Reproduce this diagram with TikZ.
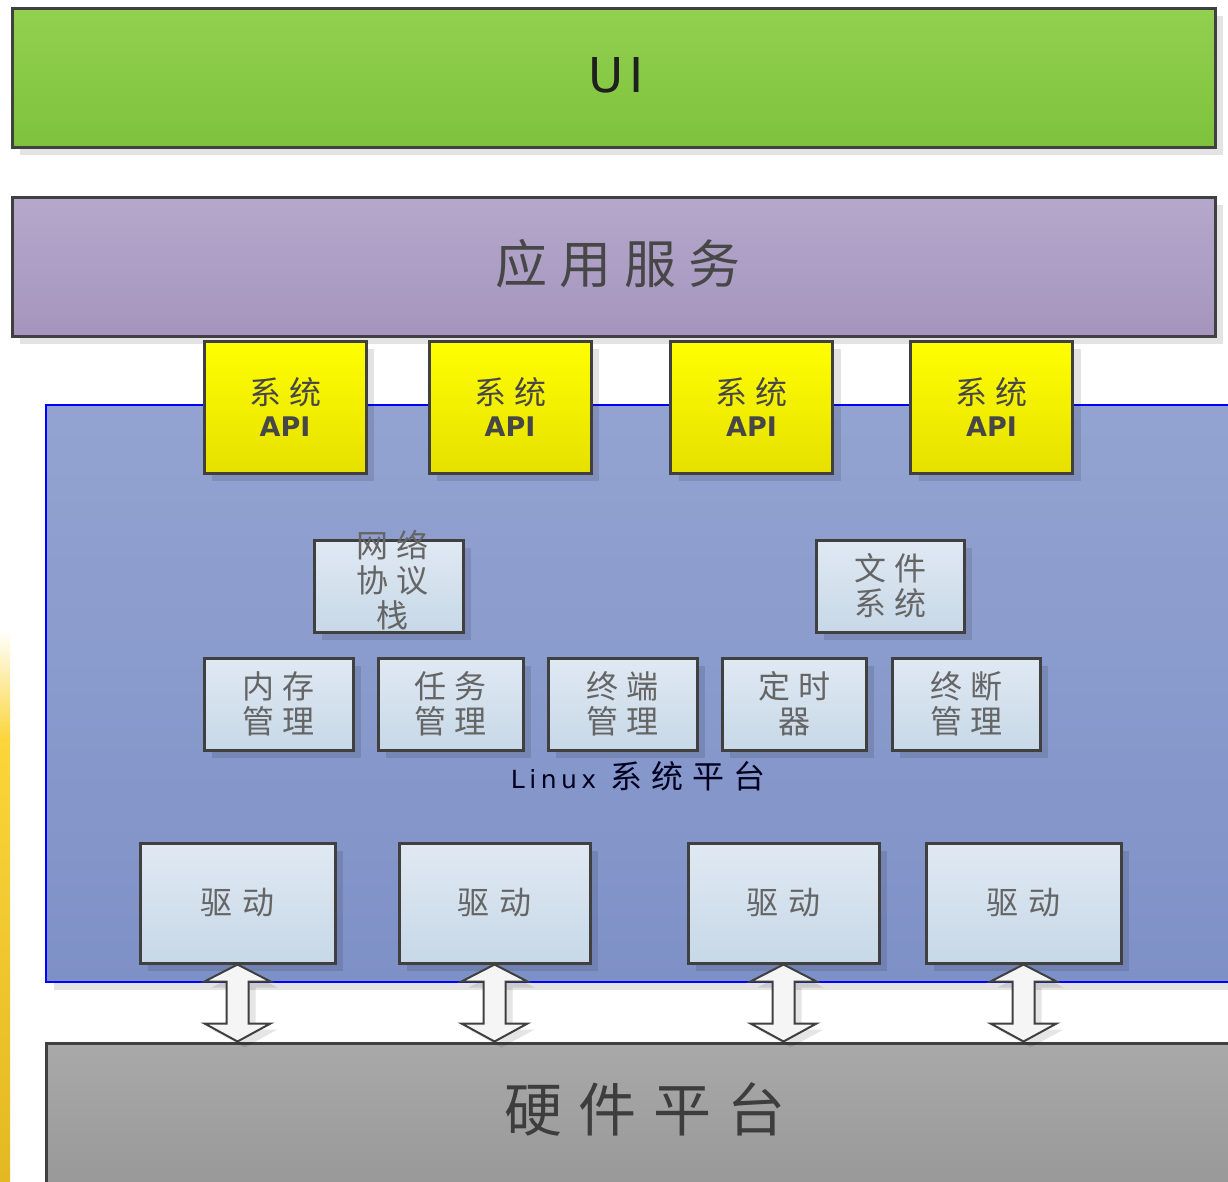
\documentclass[tikz,border=0pt]{standalone}
\usepackage{fontspec}
\setmainfont{Noto Sans CJK SC}
\newfontfamily\latinf{DejaVu Sans}
\newfontfamily\cjkw[LetterSpace=25]{Noto Sans CJK SC}
\newfontfamily\cjkwide[LetterSpace=30]{Noto Sans CJK SC}
\usetikzlibrary{calc,shadows}
\definecolor{edge}{HTML}{404040}
\definecolor{uitop}{HTML}{92D050}
\definecolor{uibot}{HTML}{7EC23C}
\definecolor{aptop}{HTML}{B5A8CB}
\definecolor{apbot}{HTML}{A595BE}
\definecolor{pltop}{HTML}{93A3D1}
\definecolor{plbot}{HTML}{7E91C7}
\definecolor{yetop}{HTML}{FFFF00}
\definecolor{yebot}{HTML}{E6E000}
\definecolor{bxtop}{HTML}{E0E9F3}
\definecolor{bxbot}{HTML}{C7D8E7}
\definecolor{hwtop}{HTML}{A9A9A9}
\definecolor{hwbot}{HTML}{989898}
\definecolor{stripeY}{HTML}{FBD53A}
\definecolor{stripeD}{HTML}{E4B822}
\definecolor{txtgray}{HTML}{656565}
\begin{document}
\begin{tikzpicture}[x=1pt,y=-1pt,
  shd/.style={drop shadow={shadow xshift=8pt,shadow yshift=-8pt,fill=black,opacity=0.11}},
  layer/.style={draw=edge,line width=3pt,shd,inner sep=0pt,minimum width=1203pt,minimum height=139pt},
  apibox/.style={draw=edge,line width=3pt,shd,top color=yetop,bottom color=yebot,inner sep=0pt,
    minimum width=162pt,minimum height=132pt,align=center,font=\cjkw\fontsize{32}{36}\selectfont,text=black!72},
  modbox/.style={draw=edge,line width=3pt,shd,top color=bxtop,bottom color=bxbot,inner sep=0pt,
    minimum height=92pt,align=center,font=\cjkw\fontsize{32}{35}\selectfont,text=txtgray},
  drvbox/.style={draw=edge,line width=3pt,shd,top color=bxtop,bottom color=bxbot,inner sep=0pt,
    minimum height=120pt,font=\cjkwide\fontsize{32}{35}\selectfont,text=txtgray},
  lbl/.style={inner sep=0pt,align=center},
  arrowst/.style={draw=edge,line width=2pt,fill=white!96!black,line join=miter,
    drop shadow={shadow xshift=7pt,shadow yshift=-6pt,fill=black,opacity=0.1}},
  dbl/.style={to path={let \p1=(\tikztostart),\p2=(\tikztotarget) in
    (\x1,\y1) -- (\x1+33pt,\y1-17pt) -- (\x1+11pt,\y1-17pt) -- (\x1+11pt,\y2+18pt)
    -- (\x1+33pt,\y2+18pt) -- (\x1,\y2) -- (\x1-33pt,\y2+18pt) -- (\x1-11pt,\y2+18pt)
    -- (\x1-11pt,\y1-17pt) -- (\x1-33pt,\y1-17pt) -- cycle}}
]
\clip (0,0) rectangle (1228,1181);
\fill[white] (0,0) rectangle (1228,1181);

% left stripe
\fill[top color=white,bottom color=stripeY] (0,630) rectangle (10,740);
\fill[top color=stripeY,bottom color=stripeD] (0,740) rectangle (10,1181);

% UI layer
\node[layer,top color=uitop,bottom color=uibot] (ui) at (613.5,77.5) {};
\node[lbl,font=\latinf\addfontfeature{LetterSpace=12}\fontsize{48}{52}\selectfont,text=black!88] (uit) at (616,75) {UI};

% application services
\node[layer,top color=aptop,bottom color=apbot] (app) at (613.5,266.5) {};
\node[lbl,font=\fontsize{52}{56}\selectfont\addfontfeature{LetterSpace=24},text=black!72] (appt) at (618,264) {应用服务};

% Linux platform
\node[draw=blue,line width=2.5pt,top color=pltop,bottom color=plbot,inner sep=0pt,shd,
  minimum width=1194pt,minimum height=577pt] (plat) at (643,693.5) {};

% system API boxes
\node[apibox] (api1) at (285,407) {系统\\[-4pt]{\latinf\bfseries\fontsize{27}{30}\selectfont API}};
\node[apibox] (api2) at (510,407) {系统\\[-4pt]{\latinf\bfseries\fontsize{27}{30}\selectfont API}};
\node[apibox] (api3) at (751.5,407) {系统\\[-4pt]{\latinf\bfseries\fontsize{27}{30}\selectfont API}};
\node[apibox] (api4) at (991.5,407) {系统\\[-4pt]{\latinf\bfseries\fontsize{27}{30}\selectfont API}};

% module boxes
\node[modbox,minimum width=149pt] (net) at (388.5,586) {};
\node[lbl,font=\cjkw\fontsize{32}{35}\selectfont,text=txtgray] (nett) at (392,580) {网络\\协议\\栈};
\node[modbox,minimum width=148pt] (fs) at (890,586) {文件\\系统};

\node[modbox,minimum width=149pt] (mem) at (278.5,704) {内存\\管理};
\node[modbox,minimum width=145pt] (task) at (450.5,704) {任务\\管理};
\node[modbox,minimum width=149pt] (term) at (622.5,704) {终端\\管理};
\node[modbox,minimum width=144pt] (timer) at (794,704) {定时\\器};
\node[modbox,minimum width=148pt] (intr) at (966,704) {终断\\管理};

\node[lbl,text=black!70!blue!40!black] (linux) at (638,776)
  {{\latinf\addfontfeature{LetterSpace=18}\fontsize{25}{28}\selectfont Linux}\hspace{14pt}{\fontsize{32}{34}\selectfont\addfontfeature{LetterSpace=28}系统平台}};

% drivers
\node[drvbox,minimum width=195pt] (d1) at (237.5,903) {驱动};
\node[drvbox,minimum width=191pt] (d2) at (494.5,903) {驱动};
\node[drvbox,minimum width=191pt] (d3) at (783.5,903) {驱动};
\node[drvbox,minimum width=195pt] (d4) at (1023.5,903) {驱动};

% hardware
\node[draw=edge,line width=3pt,top color=hwtop,bottom color=hwbot,inner sep=0pt,
  minimum width=1194pt,minimum height=147pt] (hw) at (643,1116.5) {};
\node[lbl,font=\fontsize{58}{62}\selectfont\addfontfeature{LetterSpace=28},text=black!76] (hwt) at (645,1109) {硬件平台};

% double arrows
\path[arrowst] (d1.south) to[dbl] (d1.south |- hw.north);
\path[arrowst] (d2.south) to[dbl] (d2.south |- hw.north);
\path[arrowst] (d3.south) to[dbl] (d3.south |- hw.north);
\path[arrowst] (d4.south) to[dbl] (d4.south |- hw.north);
\end{tikzpicture}
\end{document}
